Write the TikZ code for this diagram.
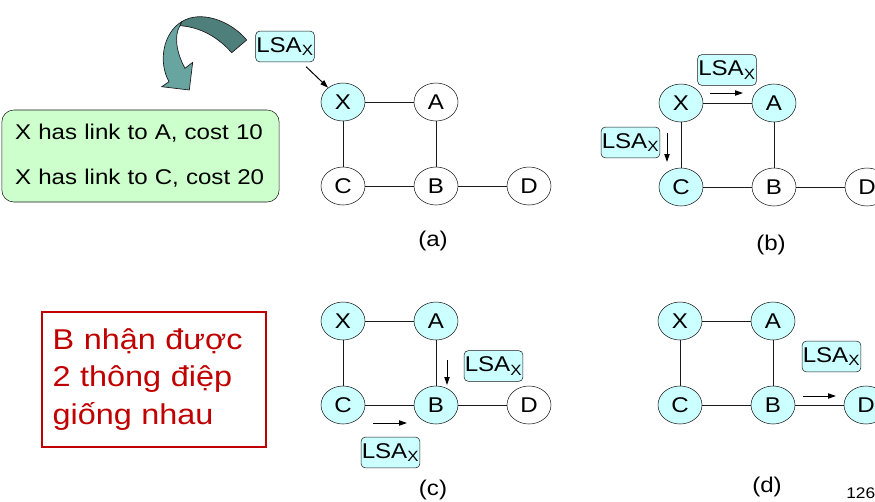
\documentclass[tikz,border=0pt]{standalone}
\usepackage{fontspec}
\setmainfont[FakeStretch=1.13]{Liberation Sans}
\usepackage{xcolor}
\definecolor{cNode}{HTML}{CCFFFF}
\definecolor{cLine}{HTML}{1A1A1A}
\definecolor{cNote}{HTML}{CCFFCC}
\definecolor{cRed}{HTML}{C00000}
\definecolor{cTealDark}{HTML}{4F7F7B}
\definecolor{cTealLight}{HTML}{68A4A0}
\usepackage{tikz}
\usetikzlibrary{positioning,arrows.meta,shapes.geometric}
\tikzset{
  node-router/.style={draw=cLine,ellipse,fill=white,minimum width=33pt,
    minimum height=28.5pt,inner sep=0pt,font=\fontsize{16}{19}\selectfont},
  node-got/.style={fill=cNode},
  node-lsa/.style={draw=cLine,fill=cNode,rounded corners=3pt,
    minimum width=44pt,minimum height=23pt,inner sep=0pt,
    font=\fontsize{16}{19}\selectfont},
  node-note/.style={draw=cLine,fill=cNote,rounded corners=9pt,
    minimum width=207.75pt,minimum height=69pt,text width=188pt,
    inner xsep=10pt,align=left,font=\fontsize{16}{33.75}\selectfont},
  node-claim/.style={draw=cRed,line width=1.5pt,text=cRed,
    minimum width=168pt,minimum height=101.25pt,text width=152pt,
    inner xsep=8pt,align=left,font=\fontsize{21.5}{28.1}\selectfont},
  node-caption/.style={font=\fontsize{16}{19}\selectfont},
  link/.style={draw=cLine,line width=0.75pt},
  arrow/.style={-{Triangle[length=6pt,width=4pt]},line width=0.75pt,draw=black},
  % mui ten cong (kieu PowerPoint): phan sau sam, phan truoc sang
  bend-back/.style={fill=cTealDark,draw=cLine,line width=0.5pt},
  bend-front/.style={fill=cTealLight,draw=cLine,line width=0.5pt},
}

\begin{document}
\begin{tikzpicture}[x=0.75pt,y=-0.75pt,node distance=63pt and 69.75pt,on grid]
  \useasboundingbox (0,0) rectangle (875,501);
  % (a)
  \node[node-router,node-got] (xa) at (343,102) {X};
  \node[node-router,right=of xa] (aa) {A};
  \node[node-router,below=of xa] (ca) {C};
  \node[node-router,below=of aa] (ba) {B};
  \node[node-router,right=of ba] (da) {D};
  \draw[link] (xa) -- (aa) (xa) -- (ca) (aa) -- (ba) (ca) -- (ba) (ba) -- (da);
  \node[node-lsa] (la) at (285,46.5) {LSA\textsubscript{X}};
  \draw[arrow,shorten <=5pt] (la) -- (xa);
  \node[node-caption] (capa) at (433,241) {(a)};
  \node[node-note] (note) at (140.5,156) {X has link to A, cost 10\\X has link to C, cost 20};
  \draw[bend-back] (181.7,21.7) .. controls (200,10) and (230,20) .. (246.7,40)
    -- (231.7,52.7) .. controls (218,37) and (200,27) .. (180,25.7) -- cycle;
  \draw[bend-front] (181.7,21.7) .. controls (163,33) and (158,62) .. (169,81.7)
    -- (161.7,86.7) -- (189.3,90) -- (192.7,62.3) -- (185,68.3)
    .. controls (176,52) and (174,35) .. (180,25.7) -- cycle;
  % (b)
  \node[node-router,node-got] (xb) at (681,103) {X};
  \node[node-router,node-got,right=of xb] (ab) {A};
  \node[node-router,node-got,below=of xb] (cb) {C};
  \node[node-router,below=of ab] (bb) {B};
  \node[node-router,right=of bb] (db) {D};
  \draw[link] (xb) -- (ab) (xb) -- (cb) (ab) -- (bb) (cb) -- (bb) (bb) -- (db);
  \node[node-lsa] (lb1) at (727,70) {LSA\textsubscript{X}};
  \node[node-lsa] (lb2) at (630.5,142.5) {LSA\textsubscript{X}};
  \coordinate (b1s) at (710,93);
  \coordinate (b1e) at (743,93);
  \coordinate (b2s) at (667,133);
  \coordinate (b2e) at (667,162);
  \draw[arrow] (b1s) -- (b1e);
  \draw[arrow] (b2s) -- (b2e);
  \node[node-caption] (capb) at (771,245) {(b)};
  % (c)
  \node[node-router,node-got] (xc) at (343,321) {X};
  \node[node-router,node-got,right=of xc] (ac) {A};
  \node[node-router,node-got,below=of xc] (cc) {C};
  \node[node-router,node-got,below=of ac] (bc) {B};
  \node[node-router,right=of bc] (dc) {D};
  \draw[link] (xc) -- (ac) (xc) -- (cc) (ac) -- (bc) (cc) -- (bc) (bc) -- (dc);
  \node[node-lsa] (lc1) at (493.5,366) {LSA\textsubscript{X}};
  \node[node-lsa] (lc2) at (390.5,452.5) {LSA\textsubscript{X}};
  \coordinate (c1s) at (447,360);
  \coordinate (c1e) at (447,385);
  \coordinate (c2s) at (373,423);
  \coordinate (c2e) at (407,423);
  \draw[arrow] (c1s) -- (c1e);
  \draw[arrow] (c2s) -- (c2e);
  \node[node-caption] (capc) at (433,490) {(c)};
  \node[node-claim] (claim) at (154,379.5) {B nhận được\\2 thông điệp\\giống nhau};
  % (d)
  \node[node-router,node-got] (xd) at (680,321) {X};
  \node[node-router,node-got,right=of xd] (ad) {A};
  \node[node-router,node-got,below=of xd] (cd) {C};
  \node[node-router,node-got,below=of ad] (bd) {B};
  \node[node-router,node-got,right=of bd] (dd) {D};
  \draw[link] (xd) -- (ad) (xd) -- (cd) (ad) -- (bd) (cd) -- (bd) (bd) -- (dd);
  \node[node-lsa] (ld) at (831.5,356.5) {LSA\textsubscript{X}};
  \coordinate (d1s) at (803,396);
  \coordinate (d1e) at (836,396);
  \draw[arrow] (d1s) -- (d1e);
  \node[node-caption] (capd) at (767,487) {(d)};
  \node[font=\fontsize{11.5}{14}\selectfont,anchor=west,inner sep=0pt] (page) at (846,493) {126};
\end{tikzpicture}
\end{document}
